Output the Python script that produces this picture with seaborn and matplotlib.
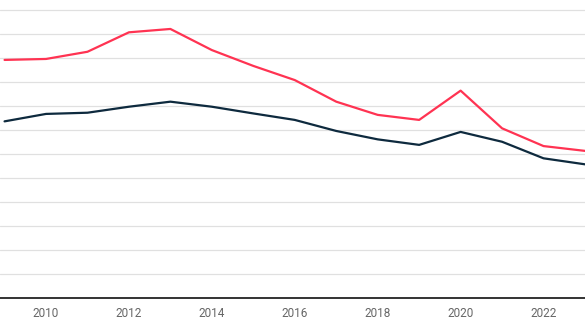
import matplotlib
matplotlib.use("Agg")
import matplotlib.pyplot as plt
import seaborn as sns
import pandas as pd

years = list(range(2009, 2024))
series_red = [9.92, 9.96, 10.26, 11.07, 11.21, 10.33, 9.67, 9.08, 8.18, 7.63, 7.42, 8.64, 7.07, 6.33, 6.13]
series_navy = [7.36, 7.67, 7.72, 7.97, 8.18, 7.97, 7.69, 7.42, 6.96, 6.61, 6.38, 6.92, 6.51, 5.82, 5.57]
xtick_labels = [2010, 2012, 2014, 2016, 2018, 2020, 2022]

df = pd.DataFrame({
    "year": years * 2,
    "value": series_red + series_navy,
    "series": ["red"] * len(years) + ["navy"] * len(years),
})

sns.set_theme(style="white")
plt.rcParams["font.family"] = ["Roboto", "DejaVu Sans"]

fig = plt.figure(figsize=(5.85, 3.32), dpi=100)
ax = fig.add_axes([0, 34 / 332, 1, 298 / 332])

sns.lineplot(data=df, x="year", y="value", hue="series",
             palette={"red": "#ff3352", "navy": "#0e2a3e"},
             linewidth=1.6, ax=ax, legend=False)

ax.set_xlim(2008.89, 2023.0)
ax.set_ylim(0, 298 / 24)
ax.set_yticks(range(0, 13))
ax.yaxis.grid(True, color="#e0e0e0", linewidth=0.9)
ax.xaxis.grid(False)
ax.set_axisbelow(True)
ax.tick_params(axis="y", left=False, labelleft=False)
ax.set_xticks(xtick_labels)
ax.set_xticklabels([str(v) for v in xtick_labels])
ax.tick_params(axis="x", length=0, pad=6.5, labelsize=8.5, labelcolor="#666666")
ax.set_xlabel("")
ax.set_ylabel("")
for s in ["top", "right", "left"]:
    ax.spines[s].set_visible(False)
ax.spines["bottom"].set_color("#111111")
ax.spines["bottom"].set_linewidth(1.2)

fig.savefig("out.png", dpi=100)
